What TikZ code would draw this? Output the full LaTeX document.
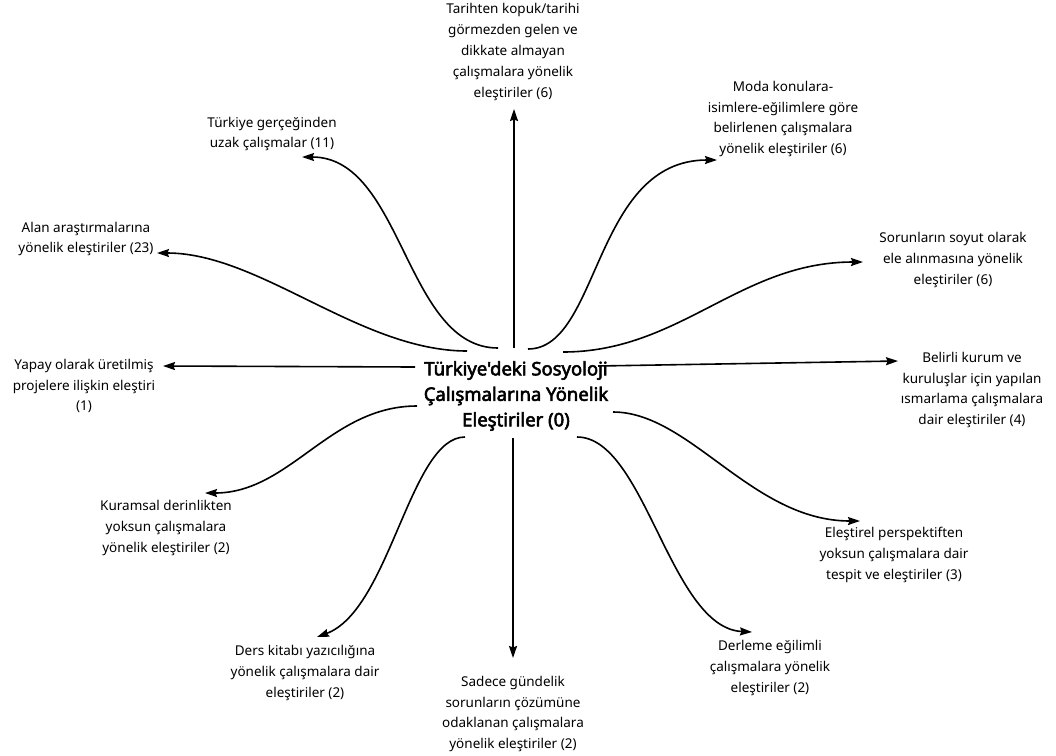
\documentclass[tikz,border=0pt]{standalone}
\usepackage{fontspec}
\setmainfont{Noto Sans}
\newfontfamily\ctrfont{Noto Sans}[FakeBold=3]
\usetikzlibrary{arrows.meta}
\begin{document}
\begin{tikzpicture}[x=1pt,y=-1pt,
  lbl/.style={inner sep=0pt,align=center,font=\fontsize{13.5}{20.8}\selectfont},
  mainlbl/.style={inner sep=0pt,align=center,font=\ctrfont\fontsize{18.5}{25.5}\selectfont},
  arr/.style={line width=1.6pt,-{Stealth[length=12pt,width=8pt,inset=1.5pt]}}]
\useasboundingbox (0,0) rectangle (1056,755);
% center
\node[mainlbl] (c) at (516,396) {Türkiye\char39 deki Sosyoloji\\Çalışmalarına Yönelik\\Eleştiriler (0)};
% labels
\node[lbl] (tarih) at (513,52) {Tarihten kopuk/tarihi\\görmezden gelen ve\\dikkate almayan\\çalışmalara yönelik\\eleştiriler (6)};
\node[lbl] (turk) at (272,134) {Türkiye gerçeğinden\\uzak çalışmalar (11)};
\node[lbl] (alan) at (86,239) {Alan araştırmalarına\\yönelik eleştiriler (23)};
\node[lbl] (yapay) at (84,386) {Yapay olarak üretilmiş\\projelere ilişkin eleştiri\\(1)};
\node[lbl] (kuram) at (166,528) {Kuramsal derinlikten\\yoksun çalışmalara\\yönelik eleştiriler (2)};
\node[lbl] (ders) at (305,673) {Ders kitabı yazıcılığına\\yönelik çalışmalara dair\\eleştiriler (2)};
\node[lbl] (sadece) at (513,714) {Sadece gündelik\\sorunların çözümüne\\odaklanan çalışmalara\\yönelik eleştiriler (2)};
\node[lbl] (derleme) at (770,668) {Derleme eğilimli\\çalışmalara yönelik\\eleştiriler (2)};
\node[lbl] (elest) at (894,555) {Eleştirel perspektiften\\yoksun çalışmalara dair\\tespit ve eleştiriler (3)};
\node[lbl] (belirli) at (972,390) {Belirli kurum ve\\kuruluşlar için yapılan\\ısmarlama çalışmalara\\dair eleştiriler (4)};
\node[lbl] (sorun) at (953,260) {Sorunların soyut olarak\\ele alınmasına yönelik\\eleştiriler (6)};
\node[lbl] (moda) at (783,119) {Moda konulara-\\isimlere-eğilimlere göre\\belirlenen çalışmalara\\yönelik eleştiriler (6)};
% connector end points
\coordinate (sTop) at (514,348);   \coordinate (eTop) at (514,109);
\coordinate (sTurk) at (498,348);  \coordinate (eTurk) at (302,157);
\coordinate (sAlan) at (467,351);  \coordinate (eAlan) at (157,253);
\coordinate (sYapay) at (415,367); \coordinate (eYapay) at (163,366);
\coordinate (sKuram) at (417,406); \coordinate (eKuram) at (205,493);
\coordinate (sDers) at (465,437);  \coordinate (eDers) at (317,637);
\coordinate (sBot) at (513,438);   \coordinate (eBot) at (513,658);
\coordinate (sDer) at (577,437);   \coordinate (eDer) at (752,632);
\coordinate (sEl) at (613,412);    \coordinate (eEl) at (860,521);
\coordinate (sBel) at (598,366);   \coordinate (eBel) at (898,361);
\coordinate (sSor) at (563,352);   \coordinate (eSor) at (863,262);
\coordinate (sModa) at (528,349);  \coordinate (eModa) at (717,160);
% connectors
\draw[arr] (sTop) -- (eTop);
\draw[arr] (sTurk) .. controls (405,348) and (403,157) .. (eTurk);
\draw[arr] (sAlan) .. controls (360,351) and (260,253) .. (eAlan);
\draw[arr] (sYapay) -- (eYapay);
\draw[arr] (sKuram) .. controls (330,406) and (290,493) .. (eKuram);
\draw[arr] (sDers) .. controls (410,437) and (390,610) .. (eDers);
\draw[arr] (sBot) -- (eBot);
\draw[arr] (sDer) .. controls (645,437) and (670,628) .. (eDer);
\draw[arr] (sEl) .. controls (690,412) and (752,521) .. (eEl);
\draw[arr] (sBel) -- (eBel);
\draw[arr] (sSor) .. controls (680,352) and (740,262) .. (eSor);
\draw[arr] (sModa) .. controls (600,349) and (593,160) .. (eModa);
\end{tikzpicture}
\end{document}
